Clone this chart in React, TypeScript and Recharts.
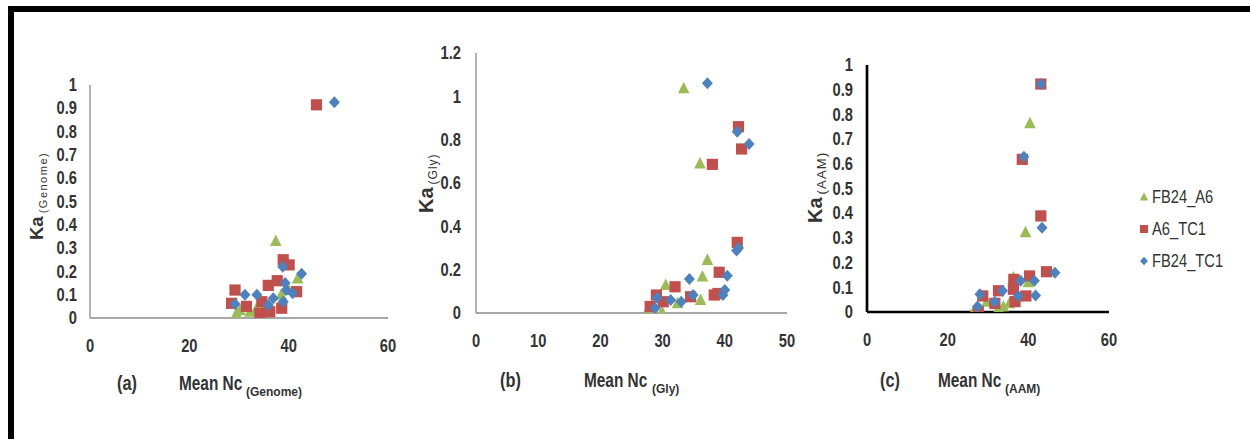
import React from "react";
import { ScatterChart, Scatter, XAxis, YAxis } from "recharts";

type Pt = [number, number];

/* ---------------- data: (Mean Nc, Ka) per gene ---------------- */

// (a) genome
const genomeFB24_A6: Pt[] = [
  [37.4, 0.33], [41.8, 0.17], [30.2, 0.034], [32.2, 0.027], [35.0, 0.05],
  [38.5, 0.1], [29.5, 0.02], [33.5, 0.04], [36.0, 0.03], [40.0, 0.12],
];
const genomeA6_TC1: Pt[] = [
  [45.6, 0.915], [38.9, 0.25], [40.1, 0.228], [35.9, 0.14], [37.7, 0.16],
  [41.6, 0.113], [29.2, 0.12], [28.5, 0.063], [34.2, 0.02], [34.6, 0.07],
  [38.6, 0.042], [31.5, 0.05], [36.2, 0.027],
];
const genomeFB24_TC1: Pt[] = [
  [49.2, 0.926], [38.8, 0.22], [42.6, 0.19], [39.3, 0.15], [39.5, 0.12],
  [40.8, 0.106], [29.2, 0.06], [31.2, 0.1], [33.6, 0.1], [35.9, 0.056],
  [36.9, 0.085], [38.9, 0.07],
];

// (b) Gly
const glyFB24_A6: Pt[] = [
  [33.4, 1.037], [36.0, 0.69], [37.2, 0.245], [36.4, 0.168], [30.5, 0.129],
  [36.1, 0.06], [27.5, 0.006], [28.8, 0.0], [29.9, 0.006], [32.4, 0.045],
];
const glyA6_TC1: Pt[] = [
  [42.2, 0.86], [42.7, 0.757], [38.0, 0.686], [42.0, 0.326], [39.1, 0.188],
  [32.0, 0.121], [29.0, 0.083], [34.5, 0.075], [38.3, 0.083], [38.9, 0.09],
  [28.0, 0.03], [30.1, 0.052],
];
const glyFB24_TC1: Pt[] = [
  [37.2, 1.06], [42.0, 0.837], [43.9, 0.78], [41.9, 0.288], [42.2, 0.3],
  [40.4, 0.172], [34.3, 0.157], [29.1, 0.07], [31.3, 0.06], [33.0, 0.052],
  [34.9, 0.083], [39.7, 0.083], [40.0, 0.106], [28.8, 0.022],
];

// (c) AAM
const aamFB24_A6: Pt[] = [
  [40.4, 0.764], [39.3, 0.323], [33.8, 0.022], [32.6, 0.015], [35.3, 0.035],
  [26.4, 0.001], [29.7, 0.042], [36.3, 0.14], [40.0, 0.12],
];
const aamA6_TC1: Pt[] = [
  [43.1, 0.923], [38.5, 0.618], [43.1, 0.389], [44.5, 0.163], [40.3, 0.146],
  [36.4, 0.132], [36.3, 0.092], [32.6, 0.086], [28.7, 0.065], [39.4, 0.065],
  [36.7, 0.042], [31.7, 0.035], [27.6, 0.001],
];
const aamFB24_TC1: Pt[] = [
  [43.1, 0.923], [38.9, 0.629], [43.4, 0.341], [46.6, 0.159], [41.5, 0.127],
  [38.1, 0.127], [33.6, 0.086], [28.0, 0.072], [41.8, 0.067], [37.5, 0.065],
  [31.7, 0.042], [27.4, 0.022],
];

const seriesNames = ["FB24_A6", "A6_TC1", "FB24_TC1"];

const genomeXTicks = [0, 20, 40, 60];
const genomeYTicks = [0, 0.1, 0.2, 0.3, 0.4, 0.5, 0.6, 0.7, 0.8, 0.9, 1];
const glyXTicks = [0, 10, 20, 30, 40, 50];
const glyYTicks = [0, 0.2, 0.4, 0.6, 0.8, 1, 1.2];
const aamXTicks = [0, 20, 40, 60];
const aamYTicks = [0, 0.1, 0.2, 0.3, 0.4, 0.5, 0.6, 0.7, 0.8, 0.9, 1];

/* ---------------- style ---------------- */

const W = 1250;
const H = 439;
const X_AXIS_H = 40;
const FONT = "'Liberation Sans', Arial, sans-serif";
const SQUEEZE = 0.84; // fake Arial Narrow
const TEXT = "#333";

const STYLE: Record<string, { color: string; kind: string }> = {
  FB24_A6: { color: "#9BBB59", kind: "triangle" },
  A6_TC1: { color: "#C0504D", kind: "square" },
  FB24_TC1: { color: "#4F81BD", kind: "diamond" },
};

const squeeze = (x: number, y: number, s = SQUEEZE) =>
  `translate(${x} ${y}) scale(${s} 1) translate(${-x} ${-y})`;

const Marker = ({ cx, cy, kind, color, s = 1 }: any) => {
  if (cx == null || cy == null) return null;
  if (kind === "triangle")
    return <polygon points={`${cx},${cy - 6.5 * s} ${cx + 5.8 * s},${cy + 5 * s} ${cx - 5.8 * s},${cy + 5 * s}`} fill={color} />;
  if (kind === "square")
    return <rect x={cx - 5.6 * s} y={cy - 5.6 * s} width={11.2 * s} height={11.2 * s} fill={color} />;
  return <polygon points={`${cx},${cy - 6 * s} ${cx + 5.5 * s},${cy} ${cx},${cy + 6 * s} ${cx - 5.5 * s},${cy}`} fill={color} />;
};

const PANELS = [
  {
    id: "a", sub: "Genome", data: [genomeFB24_A6, genomeA6_TC1, genomeFB24_TC1],
    xMax: 60, xTicks: genomeXTicks, yMax: 1, yTicks: genomeYTicks,
    plot: { l: 90, r: 388, t: 85, b: 318 }, axis: { stroke: "#8a8a8a", strokeWidth: 1.3 },
    yMargin: 13, kaFont: 18.5, subFont: 11, subSpacing: 1.5,
    yTitle: { x: 43, y: 240 }, xTitle: { tag: 117, mean: 179, sub: 246, y: 390 },
  },
  {
    id: "b", sub: "Gly", data: [glyFB24_A6, glyA6_TC1, glyFB24_TC1],
    xMax: 50, xTicks: glyXTicks, yMax: 1.2, yTicks: glyYTicks,
    plot: { l: 476, r: 787, t: 53, b: 313 }, axis: { stroke: "#8a8a8a", strokeWidth: 1.3 },
    yMargin: 15, kaFont: 20, subFont: 12, subSpacing: 1,
    yTitle: { x: 433, y: 213 }, xTitle: { tag: 500, mean: 584, sub: 652, y: 387 },
  },
  {
    id: "c", sub: "AAM", data: [aamFB24_A6, aamA6_TC1, aamFB24_TC1],
    xMax: 60, xTicks: aamXTicks, yMax: 1, yTicks: aamYTicks,
    plot: { l: 867, r: 1109, t: 65, b: 312 }, axis: { stroke: "#000", strokeWidth: 2.7 },
    yMargin: 14, kaFont: 20, subFont: 13, subSpacing: 1.2,
    yTitle: { x: 822, y: 223 }, xTitle: { tag: 880, mean: 938, sub: 1005, y: 387 },
  },
];

const NarrowTick = ({ x, y, payload, textAnchor, side }: any) => (
  <text
    x={x} y={y} dy={side === "bottom" ? "0.71em" : "0.355em"}
    textAnchor={textAnchor} transform={squeeze(x, y)}
    fill={TEXT} fontSize={17.5} fontFamily={FONT} fontWeight={700}
  >
    {String(payload.value)}
  </text>
);

const YTitle = ({ p }: any) => (
  <text
    x={p.yTitle.x} y={p.yTitle.y} transform={`rotate(-90, ${p.yTitle.x}, ${p.yTitle.y})`}
    fill={TEXT} fontFamily={FONT}
  >
    <tspan fontSize={p.kaFont} fontWeight={700}>Ka</tspan>
    <tspan fontSize={p.subFont} dy={4} dx={3} letterSpacing={p.subSpacing}>({p.sub})</tspan>
  </text>
);

const XTitle = ({ p }: any) => {
  const { tag, mean, sub, y } = p.xTitle;
  return (
    <g fill={TEXT} fontFamily={FONT} fontWeight={700}>
      <text x={tag} y={y} fontSize={19.5} transform={squeeze(tag, y)}>({p.id})</text>
      <text x={mean} y={y} fontSize={20} transform={squeeze(mean, y, 0.77)}>Mean Nc</text>
      <text x={sub} y={y + 6} fontSize={12}>({p.sub})</text>
    </g>
  );
};

const LegendBox = () => (
  <div style={{ position: "absolute", left: 1136, top: 181, fontFamily: FONT, fontSize: 17.5, color: TEXT }}>
    {seriesNames.map((n) => (
      <div key={n} style={{ display: "flex", alignItems: "center", height: 32 }}>
        <svg width={16} height={16}>
          <Marker cx={8} cy={8} kind={STYLE[n].kind} color={STYLE[n].color} s={0.72} />
        </svg>
        <span style={{ display: "inline-block", transform: `scaleX(${SQUEEZE})`, transformOrigin: "left center" }}>{n}</span>
      </div>
    ))}
  </div>
);

const Panel = ({ p }: any) => (
  <div style={{ position: "absolute", left: 0, top: 0 }}>
    <ScatterChart
      width={W} height={H}
      margin={{ top: p.plot.t, right: W - p.plot.r, bottom: H - p.plot.b - X_AXIS_H, left: 0 }}
    >
      <XAxis
        type="number" dataKey="x" domain={[0, p.xMax]} ticks={p.xTicks} interval={0}
        allowDataOverflow height={X_AXIS_H} tickLine={false} tickSize={0} tickMargin={22}
        axisLine={p.axis} tick={<NarrowTick side="bottom" />}
        label={<XTitle p={p} />}
      />
      <YAxis
        type="number" dataKey="y" domain={[0, p.yMax]} ticks={p.yTicks} interval={0}
        allowDataOverflow width={p.plot.l} tickLine={false} tickSize={0} tickMargin={p.yMargin}
        axisLine={p.axis} tick={<NarrowTick side="left" />}
        label={<YTitle p={p} />}
      />
      {seriesNames.map((n, i) => (
        <Scatter
          key={n} name={n} isAnimationActive={false}
          data={p.data[i].map(([x, y]: Pt) => ({ x, y }))}
          fill={STYLE[n].color}
          shape={(sp: any) => <Marker cx={sp.cx} cy={sp.cy} kind={STYLE[n].kind} color={STYLE[n].color} />}
        />
      ))}
    </ScatterChart>
  </div>
);

export default function App() {
  return (
    <div style={{ position: "absolute", left: 0, top: 0, width: W, height: H, background: "#fff", overflow: "hidden" }}>
      <div style={{ position: "absolute", left: 8, top: 6, width: W - 8, height: 6, background: "#000" }} />
      <div style={{ position: "absolute", left: 8, top: 6, width: 6, height: H - 6, background: "#000" }} />
      {PANELS.map((p) => (
        <Panel key={p.id} p={p} />
      ))}
      <LegendBox />
    </div>
  );
}
